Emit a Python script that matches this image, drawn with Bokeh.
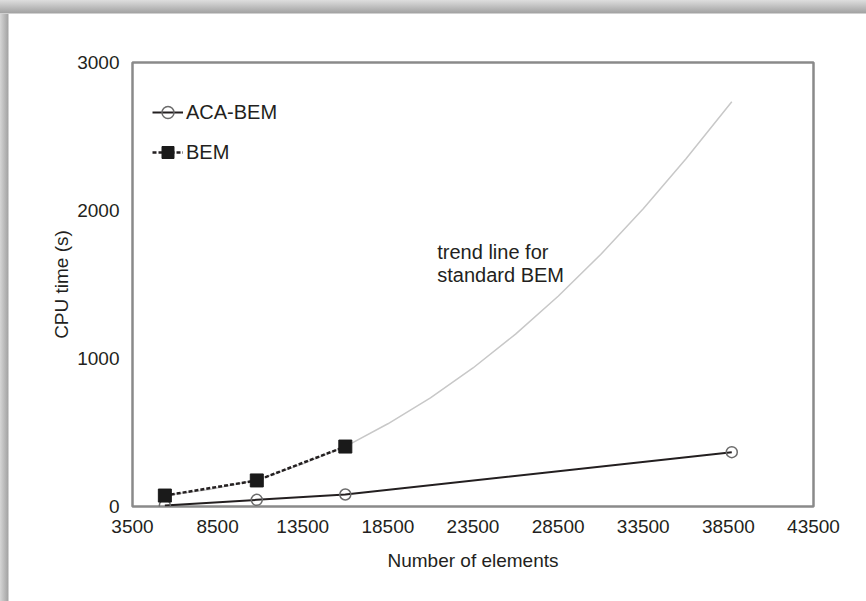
from bokeh.plotting import figure
from bokeh.models import (Legend, LegendItem, Label, Range1d, FixedTicker,
                          InlineStyleSheet)
from bokeh.embed import file_html
from bokeh.resources import INLINE

# ---- data ----
aca_x = [5400, 10800, 16000, 38700]
aca_y = [7, 45, 81, 367]

bem_x = [5400, 10800, 16000]
bem_y = [74, 176, 405]

trend_x = [5400, 8000, 10800, 13500, 16000, 18500, 21000, 23500,
           26000, 28500, 31000, 33500, 36000, 38700]
trend_y = [75, 114, 178, 288, 405, 559, 734, 936,
           1165, 1421, 1703, 2012, 2348, 2735]

x_ticks = [3500, 8500, 13500, 18500, 23500, 28500, 33500, 38500, 43500]
x_tick_labels = ["3500", "8500", "13500", "18500", "23500", "28500",
                 "33500", "38500", "43500"]
y_ticks = [0, 1000, 2000, 3000]
y_tick_labels = ["0", "1000", "2000", "3000"]

FONT = "Liberation Sans"
TXT = "#231f20"

# page frame: grey shadow bands along the top and left edges of a white card
card_css = InlineStyleSheet(css="""
:host {
  background:
    linear-gradient(to bottom, #dedede 0px, #a2a2a2 13px, #ffffff 14px) left top / 100% 14px no-repeat,
    linear-gradient(to right, #d6d6d6 0px, #a4a4a4 8px, #ffffff 9px) left top / 9px 100% no-repeat,
    #ffffff;
}
""")

p = figure(width=866, height=601, output_backend="svg", toolbar_location=None,
           x_range=Range1d(3500, 43500), y_range=Range1d(0, 3000),
           min_border_left=132, min_border_right=53,
           min_border_top=62, min_border_bottom=95,
           stylesheets=[card_css],
           x_axis_label="Number of elements", y_axis_label="CPU time (s)")

p.background_fill_color = "white"
p.border_fill_alpha = 0
p.outline_line_color = "#8a8a8a"
p.outline_line_width = 2.5
p.grid.visible = False

p.xaxis.ticker = FixedTicker(ticks=x_ticks)
p.yaxis.ticker = FixedTicker(ticks=y_ticks)
p.xaxis.major_label_overrides = dict(zip(x_ticks, x_tick_labels))
p.yaxis.major_label_overrides = dict(zip(y_ticks, y_tick_labels))

for ax in (p.xaxis[0], p.yaxis[0]):
    ax.axis_line_color = None
    ax.major_tick_line_color = None
    ax.minor_tick_line_color = None
    ax.major_label_text_font = FONT
    ax.major_label_text_font_size = "19px"
    ax.major_label_text_color = TXT
    ax.axis_label_text_font = FONT
    ax.axis_label_text_font_size = "19px"
    ax.axis_label_text_font_style = "normal"
    ax.axis_label_text_color = TXT

p.xaxis.major_label_standoff = 7
p.xaxis.axis_label_standoff = 14
p.yaxis.major_label_standoff = 7
p.yaxis.axis_label_standoff = 2

# ---- series ----
trend = p.line(trend_x, trend_y, line_color="#c8c8c8", line_width=1.5)

aca_line = p.line(aca_x, aca_y, line_color=TXT, line_width=2)
aca_pts = p.scatter(aca_x, aca_y, marker="circle", size=11, fill_color=None,
                    line_color="#6b6b6b", line_width=1.5)

bem_line = p.line(bem_x, bem_y, line_color=TXT, line_width=2.5, line_dash="4 2")
bem_pts = p.scatter(bem_x, bem_y, marker="square", size=13,
                    fill_color="#1a1a1a", line_color="#1a1a1a")

legend = Legend(items=[LegendItem(label="ACA-BEM", renderers=[aca_line, aca_pts]),
                       LegendItem(label="BEM", renderers=[bem_line, bem_pts])],
                location=(20, 339), padding=0, margin=0, spacing=10,
                glyph_width=31, glyph_height=30, label_height=30,
                label_standoff=3, border_line_color=None,
                background_fill_alpha=0, label_text_font=FONT,
                label_text_font_size="20px", label_text_color=TXT)
p.add_layout(legend)

note = Label(x=21400, y=1642, text="trend line for\nstandard BEM",
             text_align="left", text_baseline="middle", text_font=FONT,
             text_font_size="20px", text_color=TXT, text_line_height=1.05)
p.add_layout(note)

open("out.html", "w").write(file_html(p, INLINE))
